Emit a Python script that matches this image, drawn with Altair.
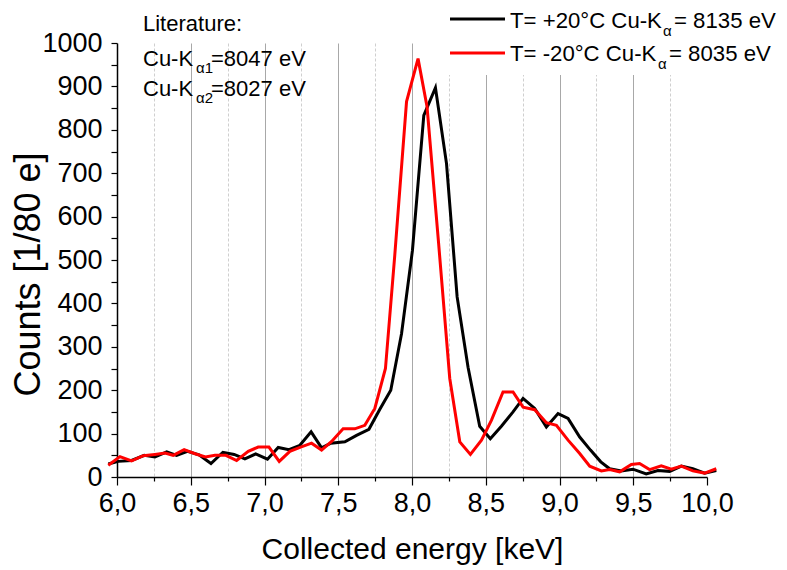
import altair as alt
import pandas as pd

# ---- data ----
black_x = [5.941, 6.009, 6.099, 6.185, 6.257, 6.337, 6.404, 6.478, 6.556, 6.637,
           6.718, 6.794, 6.867, 6.940, 7.020, 7.093, 7.166, 7.240, 7.316, 7.387,
           7.450, 7.545, 7.624, 7.708, 7.782, 7.856, 7.929, 8.003, 8.080, 8.159,
           8.234, 8.306, 8.380, 8.459, 8.531, 8.606, 8.685, 8.753, 8.832, 8.911,
           8.990, 9.058, 9.137, 9.210, 9.280, 9.340, 9.419, 9.498, 9.588, 9.667,
           9.747, 9.826, 9.904, 9.984, 10.063]
black_y = [30, 36, 38, 50, 46, 58, 50, 59, 51, 31,
           57, 52, 42, 53, 41, 68, 63, 73, 104, 67,
           78, 81, 96, 110, 156, 200, 330, 522, 833, 897,
           722, 415, 253, 117, 88, 117, 150, 181, 158, 115,
           146, 135, 92, 62, 35, 19, 14, 18, 7, 15,
           13, 25, 19, 9, 15]

red_x = [5.941, 6.020, 6.099, 6.178, 6.257, 6.325, 6.381, 6.455, 6.534, 6.600,
         6.664, 6.738, 6.811, 6.890, 6.957, 7.030, 7.100, 7.172, 7.245, 7.319,
         7.387, 7.455, 7.533, 7.612, 7.680, 7.748, 7.820, 7.883, 7.963, 8.041,
         8.102, 8.180, 8.256, 8.324, 8.396, 8.471, 8.539, 8.617, 8.685, 8.753,
         8.832, 8.911, 8.979, 9.058, 9.137, 9.205, 9.284, 9.340, 9.408, 9.487,
         9.543, 9.611, 9.690, 9.758, 9.826, 9.904, 9.984, 10.063]
red_y = [27, 47, 37, 49, 52, 55, 50, 63, 53, 46,
         50, 50, 38, 59, 69, 69, 36, 59, 69, 78,
         62, 82, 111, 111, 119, 158, 250, 510, 865, 964,
         853, 540, 227, 81, 52, 85, 131, 196, 196, 161,
         155, 125, 119, 85, 54, 25, 14, 17, 12, 29,
         31, 17, 26, 18, 25, 14, 9, 19]

series = ["T= +20°C", "T= -20°C"]
colors = ["#000000", "#ff0000"]

x_ticks = [6.0, 6.25, 6.5, 6.75, 7.0, 7.25, 7.5, 7.75, 8.0, 8.25, 8.5,
           8.75, 9.0, 9.25, 9.5, 9.75, 10.0]
y_ticks = [0, 50, 100, 150, 200, 250, 300, 350, 400, 450, 500,
           550, 600, 650, 700, 750, 800, 850, 900, 950, 1000]

df = pd.concat([
    pd.DataFrame({"E": black_x, "C": black_y, "s": series[0], "i": range(len(black_x))}),
    pd.DataFrame({"E": red_x, "C": red_y, "s": series[1], "i": range(len(red_x))}),
])

FONT = "Liberation Sans"

x_axis = alt.Axis(
    values=x_ticks,
    labelExpr="datum.value % 0.5 == 0 ? replace(format(datum.value, '.1f'), '.', ',') : ''",
    labelFont=FONT, labelFontSize=27, labelColor="#000", labelPadding=5,
    labelFlush=False, labelOverlap=False,
    tickColor="#000", tickWidth=1.2,
    tickSize={"condition": {"test": "datum.value % 0.5 == 0", "value": 8}, "value": 4},
    domainColor="#000", domainWidth=1.5,
    grid=True,
    gridColor={"condition": {"test": "datum.value % 0.5 == 0", "value": "#a8a8a8"}, "value": "#cfcfcf"},
    gridDash={"condition": {"test": "datum.value % 0.5 == 0", "value": []}, "value": [3, 2]},
    gridOpacity={"condition": {"test": "datum.value == 6 || datum.value == 10", "value": 0}, "value": 1},
    gridWidth=1,
    title="Collected energy [keV]", titleFont=FONT, titleFontSize=30,
    titleFontWeight="normal", titleColor="#000",
    titleY=81, titleBaseline="alphabetic",
)

y_axis = alt.Axis(
    values=y_ticks,
    labelExpr="datum.value % 100 == 0 ? datum.value : ''",
    labelFont=FONT, labelFontSize=27, labelColor="#000", labelPadding=9,
    labelFlush=False, labelOverlap=False,
    tickColor="#000", tickWidth=1.2, tickSize=6,
    domainColor="#000", domainWidth=1.5,
    grid=False,
    title="Counts [1/80 e]", titleFont=FONT, titleFontSize=36,
    titleFontWeight="normal", titleColor="#000",
    titleX=-89, titleY=231, titleAngle=-90, titleAlign="center", titleBaseline="middle",
)

one = alt.InlineData(values=[{"a": 1}])

# white box behind the legend (hides the grid there, as in the reference)
legend_box = alt.Chart(one).mark_rect(color="white").encode(
    x=alt.value(326), x2=alt.value(662), y=alt.value(-40), y2=alt.value(32))

lines = alt.Chart(df).mark_line(strokeWidth=3, strokeJoin="miter").encode(
    x=alt.X("E:Q", scale=alt.Scale(domain=[6.0, 10.0], nice=False, zero=False), axis=x_axis),
    y=alt.Y("C:Q", scale=alt.Scale(domain=[0, 1000], nice=False), axis=y_axis),
    color=alt.Color("s:N", scale=alt.Scale(domain=series, range=colors), legend=None),
    order="i:Q",
)


def txt(s, x, y, size=22, align="left", baseline="alphabetic"):
    return alt.Chart(one).mark_text(
        text=s, font=FONT, fontSize=size, color="#000", align=align, baseline=baseline
    ).encode(x=alt.value(x), y=alt.value(y))


def seg(x1, x2, y, color):
    return alt.Chart(one).mark_rule(color=color, strokeWidth=3).encode(
        x=alt.value(x1), x2=alt.value(x2), y=alt.value(y))


# literature annotation
ann = [
    txt("Literature:", 26, -12),
    txt("Cu-K", 26, 23),
    txt("α1", 79, 30, size=15),
    txt("=8047 eV", 94, 23),
    txt("Cu-K", 26, 53),
    txt("α2", 79, 60, size=15),
    txt("=8027 eV", 94, 53),
]

# legend
leg = [
    seg(333, 388, -24, colors[0]),
    txt(series[0] + " Cu-K", 393, -15, size=22.2),
    txt("α", 546, -7, size=15),
    txt("= 8135 eV", 557, -15, size=22.2),
    seg(333, 388, 10, colors[1]),
    txt(series[1] + " Cu-K", 393, 18, size=22.2),
    txt("α", 541, 26, size=15),
    txt("= 8035 eV", 552, 18, size=22.2),
]

chart = alt.layer(legend_box, lines, *ann, *leg).properties(
    width=590, height=434,
    autosize=alt.AutoSizeParams(type="none"),
    padding={"left": 109, "top": 35, "right": 72, "bottom": 90},
).configure_view(stroke=None)

chart.save("out.html", embed_options={"renderer": "svg", "actions": False})
